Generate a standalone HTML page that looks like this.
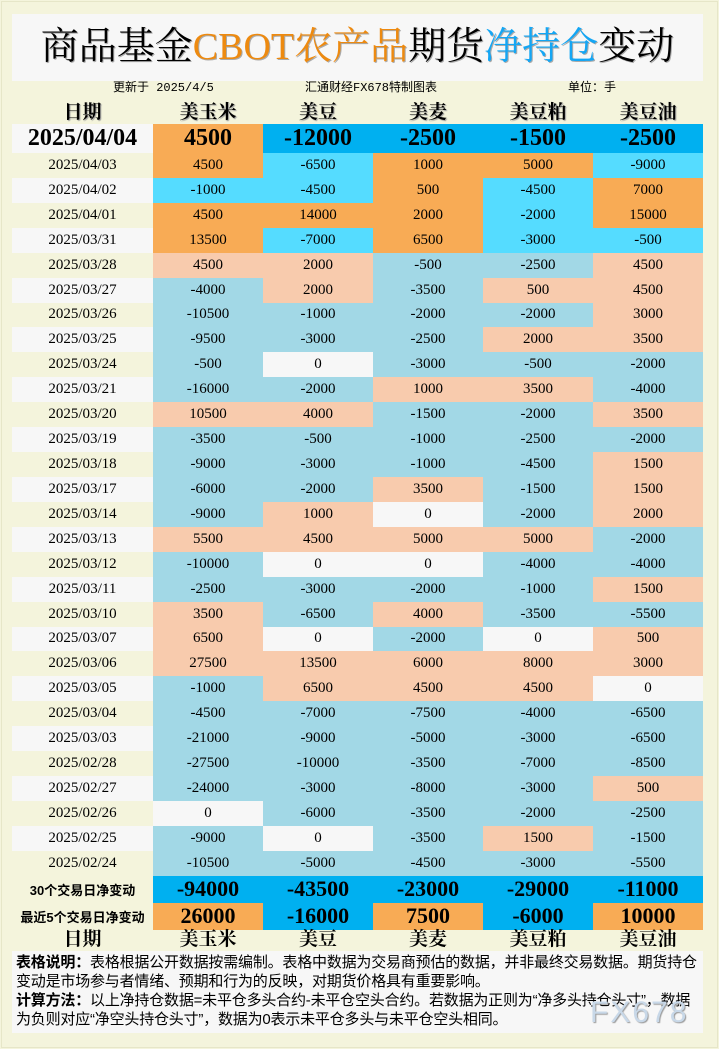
<!DOCTYPE html>
<html><head><meta charset="utf-8"><style>
*{margin:0;padding:0;box-sizing:border-box}
body{width:719px;height:1049px;background:#f4f4dc;position:relative;overflow:hidden;font-family:"Liberation Serif","Noto Serif CJK SC",serif;color:#000}
.frame{position:absolute;left:1px;top:1px;width:717px;height:1047px;border:1px solid #e6e6c8}
.title{position:absolute;left:12px;top:14px;width:691px;height:67px;background:#f7f7f7;text-align:center;font-family:"Liberation Serif","Noto Serif CJK SC","Noto Serif CJK JP",serif;font-size:38px;line-height:67px;text-shadow:1px 1px 0 #aaa;white-space:nowrap;overflow:hidden}
.title .c{font-weight:normal}
.sub{position:absolute;top:81px;font-size:12px;font-family:"Liberation Mono","Noto Sans CJK SC",monospace;line-height:15px}
table{position:absolute;left:12px;top:96px;border-collapse:collapse;table-layout:fixed;width:691px}
td{text-align:center;padding:0;white-space:nowrap}
tr.h td{height:28px;font-size:19px;font-weight:bold;text-shadow:1px 1px 1px #999}
tr.f td{height:29px;font-size:24px;font-weight:bold}
tr.r td{height:24.93px;font-size:15px}
tr.s td{height:27px;font-size:22px;font-weight:bold}
tr.s td.d{font-size:13px;font-family:"Liberation Sans","Noto Sans CJK SC",sans-serif}
tr.hb td{height:19px;font-size:19px;font-weight:bold;line-height:19px}
td.d{background:#f4f4dc}
tr.alt td.d{background:#f7f7f7}
.O{background:#f8ab55}.C{background:#55dcff}.P{background:#f8cbad}.L{background:#a2d8e6}.W{background:#f7f7f7}.B{background:#00b0f0}
.notes{position:absolute;left:12px;top:951px;width:691px;height:82px;background:#f7f7f7;font-family:"Liberation Sans","Noto Sans CJK SC",sans-serif;font-size:15px;line-height:19px;padding:2px 4px;letter-spacing:-0.2px}
.wm{position:absolute;left:590px;top:996px;font-family:"Liberation Sans",sans-serif;font-size:30px;color:#c8d8e8;letter-spacing:2px;text-shadow:1px 1px 1px #999}
</style></head><body>
<div class="frame"></div>
<div class="title">商品基金<span style="color:#ed8a10">CBOT农产品</span>期货<span style="color:#14a6f4">净持仓</span>变动</div>
<div class="sub" style="left:113px">更新于 2025/4/5</div>
<div class="sub" style="left:305px">汇通财经FX678特制图表</div>
<div class="sub" style="left:568px">单位：手</div>
<table>
<colgroup><col style="width:141px"><col style="width:110px"><col style="width:110px"><col style="width:110px"><col style="width:110px"><col style="width:110px"></colgroup>
<tr class="h"><td>日期</td><td>美玉米</td><td>美豆</td><td>美麦</td><td>美豆粕</td><td>美豆油</td></tr>
<tr class="f"><td style="background:#f7f7f7">2025/04/04</td><td class="O">4500</td><td class="B">-12000</td><td class="B">-2500</td><td class="B">-1500</td><td class="B">-2500</td></tr>
<tr class="r"><td class="d">2025/04/03</td><td class="O">4500</td><td class="C">-6500</td><td class="O">1000</td><td class="O">5000</td><td class="C">-9000</td></tr>
<tr class="r alt"><td class="d">2025/04/02</td><td class="C">-1000</td><td class="C">-4500</td><td class="O">500</td><td class="C">-4500</td><td class="O">7000</td></tr>
<tr class="r"><td class="d">2025/04/01</td><td class="O">4500</td><td class="O">14000</td><td class="O">2000</td><td class="C">-2000</td><td class="O">15000</td></tr>
<tr class="r alt"><td class="d">2025/03/31</td><td class="O">13500</td><td class="C">-7000</td><td class="O">6500</td><td class="C">-3000</td><td class="C">-500</td></tr>
<tr class="r"><td class="d">2025/03/28</td><td class="P">4500</td><td class="P">2000</td><td class="L">-500</td><td class="L">-2500</td><td class="P">4500</td></tr>
<tr class="r alt"><td class="d">2025/03/27</td><td class="L">-4000</td><td class="P">2000</td><td class="L">-3500</td><td class="P">500</td><td class="P">4500</td></tr>
<tr class="r"><td class="d">2025/03/26</td><td class="L">-10500</td><td class="L">-1000</td><td class="L">-2000</td><td class="L">-2000</td><td class="P">3000</td></tr>
<tr class="r alt"><td class="d">2025/03/25</td><td class="L">-9500</td><td class="L">-3000</td><td class="L">-2500</td><td class="P">2000</td><td class="P">3500</td></tr>
<tr class="r"><td class="d">2025/03/24</td><td class="L">-500</td><td class="W">0</td><td class="L">-3000</td><td class="L">-500</td><td class="L">-2000</td></tr>
<tr class="r alt"><td class="d">2025/03/21</td><td class="L">-16000</td><td class="L">-2000</td><td class="P">1000</td><td class="P">3500</td><td class="L">-4000</td></tr>
<tr class="r"><td class="d">2025/03/20</td><td class="P">10500</td><td class="P">4000</td><td class="L">-1500</td><td class="L">-2000</td><td class="P">3500</td></tr>
<tr class="r alt"><td class="d">2025/03/19</td><td class="L">-3500</td><td class="L">-500</td><td class="L">-1000</td><td class="L">-2500</td><td class="L">-2000</td></tr>
<tr class="r"><td class="d">2025/03/18</td><td class="L">-9000</td><td class="L">-3000</td><td class="L">-1000</td><td class="L">-4500</td><td class="P">1500</td></tr>
<tr class="r alt"><td class="d">2025/03/17</td><td class="L">-6000</td><td class="L">-2000</td><td class="P">3500</td><td class="L">-1500</td><td class="P">1500</td></tr>
<tr class="r"><td class="d">2025/03/14</td><td class="L">-9000</td><td class="P">1000</td><td class="W">0</td><td class="L">-2000</td><td class="P">2000</td></tr>
<tr class="r alt"><td class="d">2025/03/13</td><td class="P">5500</td><td class="P">4500</td><td class="P">5000</td><td class="P">5000</td><td class="L">-2000</td></tr>
<tr class="r"><td class="d">2025/03/12</td><td class="L">-10000</td><td class="W">0</td><td class="W">0</td><td class="L">-4000</td><td class="L">-4000</td></tr>
<tr class="r alt"><td class="d">2025/03/11</td><td class="L">-2500</td><td class="L">-3000</td><td class="L">-2000</td><td class="L">-1000</td><td class="P">1500</td></tr>
<tr class="r"><td class="d">2025/03/10</td><td class="P">3500</td><td class="L">-6500</td><td class="P">4000</td><td class="L">-3500</td><td class="L">-5500</td></tr>
<tr class="r alt"><td class="d">2025/03/07</td><td class="P">6500</td><td class="W">0</td><td class="L">-2000</td><td class="W">0</td><td class="P">500</td></tr>
<tr class="r"><td class="d">2025/03/06</td><td class="P">27500</td><td class="P">13500</td><td class="P">6000</td><td class="P">8000</td><td class="P">3000</td></tr>
<tr class="r alt"><td class="d">2025/03/05</td><td class="L">-1000</td><td class="P">6500</td><td class="P">4500</td><td class="P">4500</td><td class="W">0</td></tr>
<tr class="r"><td class="d">2025/03/04</td><td class="L">-4500</td><td class="L">-7000</td><td class="L">-7500</td><td class="L">-4000</td><td class="L">-6500</td></tr>
<tr class="r alt"><td class="d">2025/03/03</td><td class="L">-21000</td><td class="L">-9000</td><td class="L">-5000</td><td class="L">-3000</td><td class="L">-6500</td></tr>
<tr class="r"><td class="d">2025/02/28</td><td class="L">-27500</td><td class="L">-10000</td><td class="L">-3500</td><td class="L">-7000</td><td class="L">-8500</td></tr>
<tr class="r alt"><td class="d">2025/02/27</td><td class="L">-24000</td><td class="L">-3000</td><td class="L">-8000</td><td class="L">-3000</td><td class="P">500</td></tr>
<tr class="r"><td class="d">2025/02/26</td><td class="W">0</td><td class="L">-6000</td><td class="L">-3500</td><td class="L">-2000</td><td class="L">-2500</td></tr>
<tr class="r alt"><td class="d">2025/02/25</td><td class="L">-9000</td><td class="W">0</td><td class="L">-3500</td><td class="P">1500</td><td class="L">-1500</td></tr>
<tr class="r"><td class="d">2025/02/24</td><td class="L">-10500</td><td class="L">-5000</td><td class="L">-4500</td><td class="L">-3000</td><td class="L">-5500</td></tr>
<tr class="s"><td class="d">30个交易日净变动</td><td class="B">-94000</td><td class="B">-43500</td><td class="B">-23000</td><td class="B">-29000</td><td class="B">-11000</td></tr>
<tr class="s"><td class="d">最近5个交易日净变动</td><td class="O">26000</td><td class="B">-16000</td><td class="O">7500</td><td class="B">-6000</td><td class="O">10000</td></tr>
<tr class="hb"><td>日期</td><td>美玉米</td><td>美豆</td><td>美麦</td><td>美豆粕</td><td>美豆油</td></tr>
</table>
<div class="notes"><b>表格说明：</b>表格根据公开数据按需编制。表格中数据为交易商预估的数据，并非最终交易数据。期货持仓变动是市场参与者情绪、预期和行为的反映，对期货价格具有重要影响。<br><b>计算方法：</b>以上净持仓数据=未平仓多头合约-未平仓空头合约。若数据为正则为“净多头持仓头寸”，数据为负则对应“净空头持仓头寸”，数据为0表示未平仓多头与未平仓空头相同。</div>
<div class="wm">FX678</div>
</body></html>
